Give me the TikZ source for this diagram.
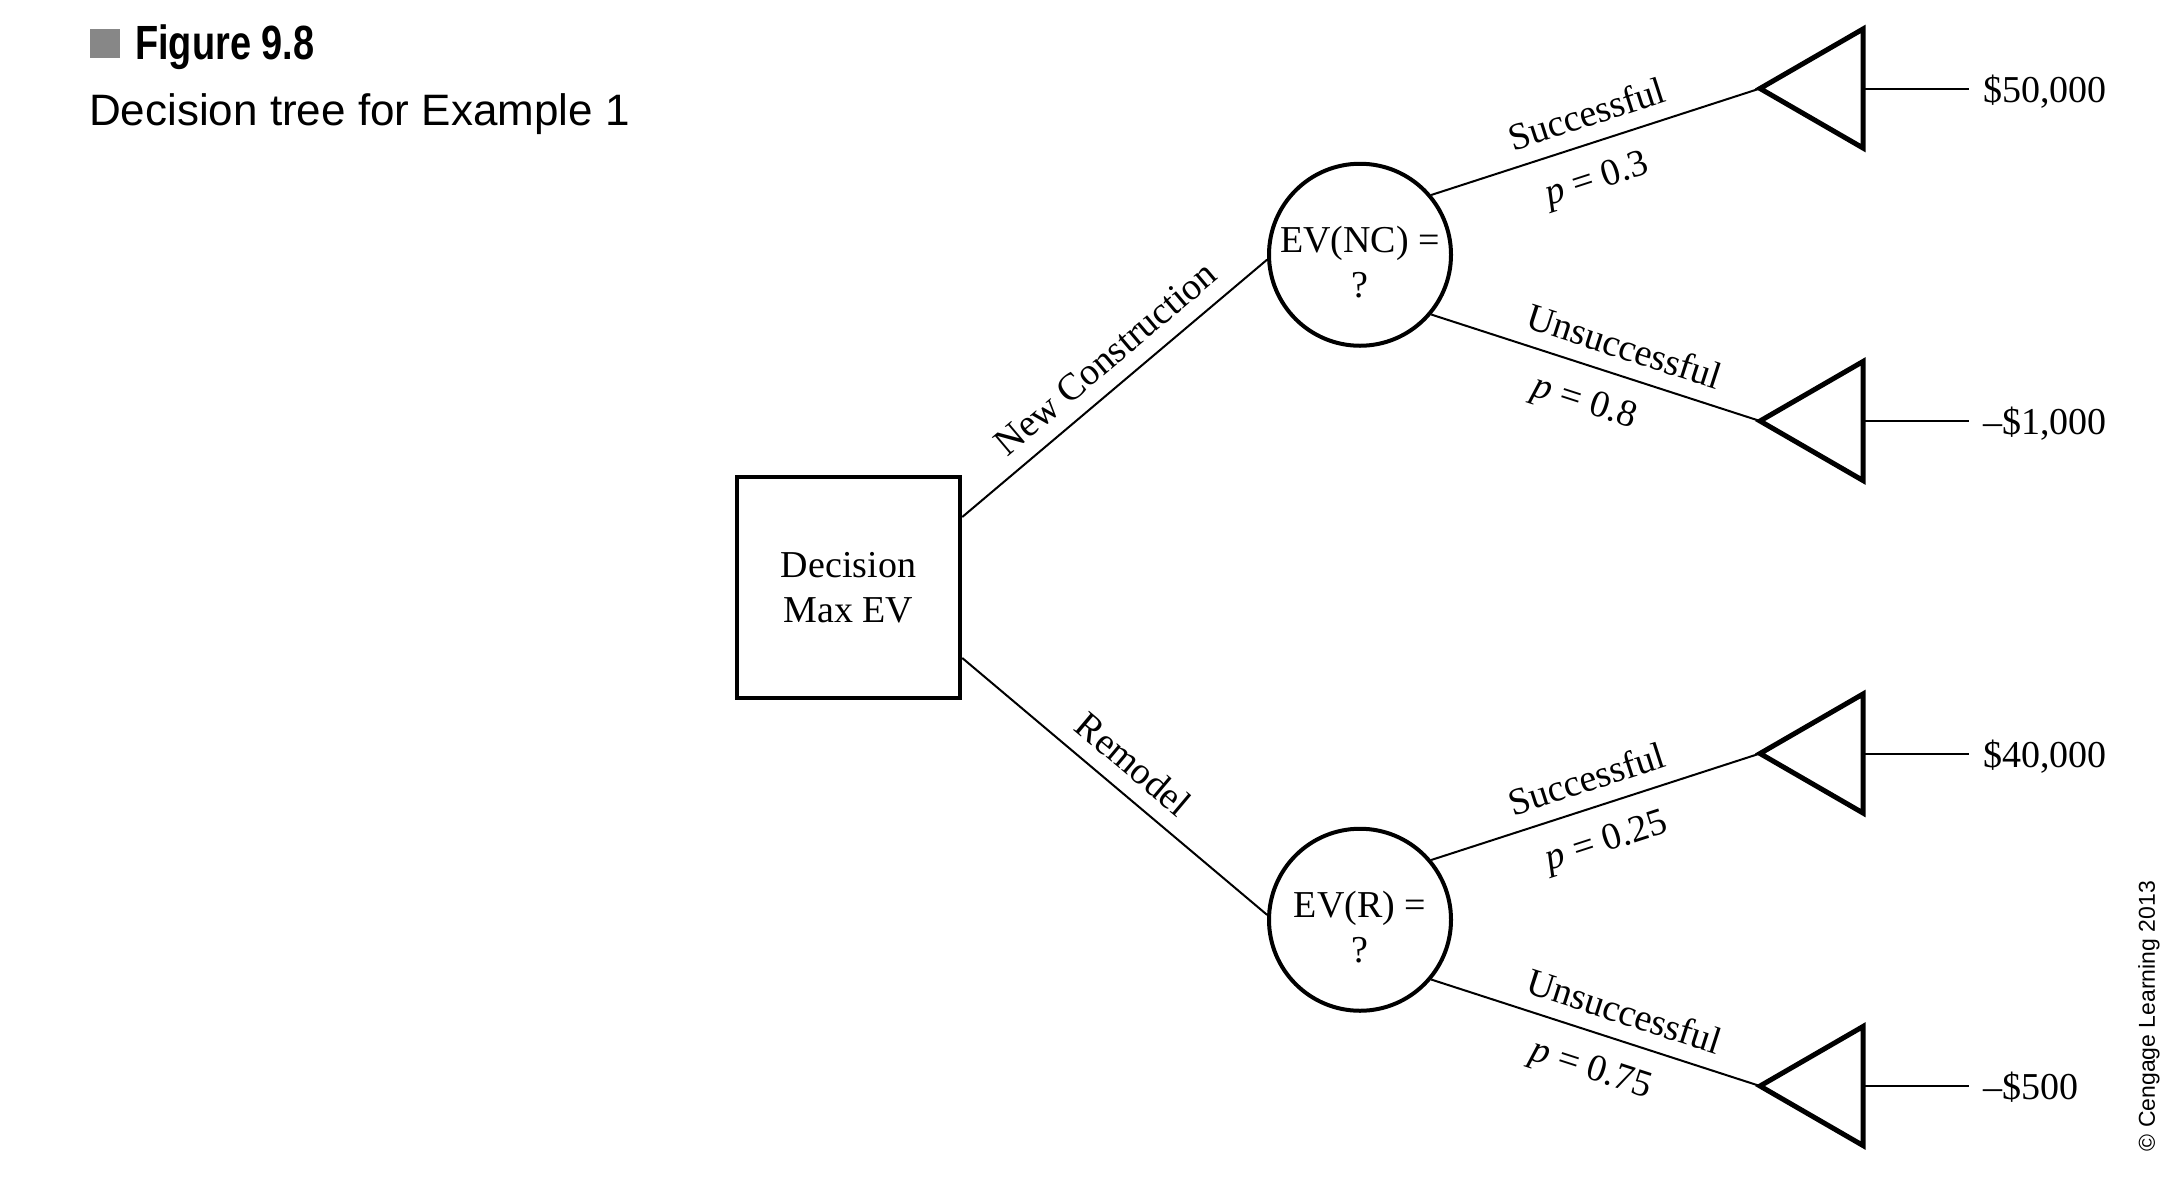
\documentclass[tikz,border=0pt]{standalone}
\usepackage{fontspec}
\setmainfont{Liberation Serif}
\newfontfamily\titlefont[FakeStretch=0.79]{Liberation Sans}
\newfontfamily\capsans{Liberation Sans}
\definecolor{figgray}{RGB}{135,135,135}
\begin{document}
\begin{tikzpicture}[x=1pt,y=-1pt,
  branch/.style={line width=2pt},
  chance/.style={circle, draw, line width=4pt, minimum size=182pt, inner sep=0pt},
  decbox/.style={rectangle, draw, line width=4.5pt, minimum width=223pt, minimum height=221pt, inner sep=0pt, align=center, lab},
  tri/.style={line width=5pt, line join=miter},
  lab/.style={font=\fontsize{38}{45}\selectfont},
  abv/.style={lab, sloped, anchor=south, inner sep=15pt},
  blw/.style={lab, sloped, anchor=north, inner sep=20pt},
  pay/.style={lab, anchor=base west, inner sep=0pt}]
\useasboundingbox (0,0) rectangle (2184,1184);

% heading
\fill[figgray] (90,29) rectangle (120,58);
\node[anchor=base west, inner sep=0pt, font=\titlefont\bfseries\fontsize{48}{48}\selectfont] (fig) at (135,59) {Figure 9.8};
\node[anchor=base west, inner sep=0pt, font=\capsans\fontsize{44}{44}\selectfont] (cap) at (89,125) {Decision tree for Example 1};

% decision and chance nodes
\node[decbox] (dec) at (848.5,587.5) {Decision\\Max EV};
\node[chance] (nc) at (1360,254.75) {};
\node[chance] (rr) at (1360,919.75) {};
\node[lab, align=center, inner sep=0pt] (nct) at ([yshift=-7pt]nc.center) {EV(NC) =\\?};
\node[lab, align=center, inner sep=0pt] (rrt) at ([yshift=-7pt]rr.center) {EV(R) =\\?};

% end triangles
\coordinate (t1) at (1760,88.5);
\coordinate (t2) at (1760,421);
\coordinate (t3) at (1760,753.5);
\coordinate (t4) at (1760,1086);
\foreach \t in {t1,t2,t3,t4}{
  \draw[tri] (\t) -- ++(103,-59.5) -- ++(0,119) -- cycle;
  \path (\t) ++(103,0) coordinate (\t e) ++(106,0) coordinate (\t p);
  \draw[branch] (\t e) -- (\t p);
}

% payoffs
\node[pay] (v1) at ([xshift=14pt,yshift=-13.5pt]t1p) {\$50,000};
\node[pay] (v2) at ([xshift=14pt,yshift=-13.5pt]t2p) {--\$1,000};
\node[pay] (v3) at ([xshift=14pt,yshift=-13.5pt]t3p) {\$40,000};
\node[pay] (v4) at ([xshift=14pt,yshift=-13.5pt]t4p) {--\$500};

% decision branches
\draw[branch] ([yshift=70.5pt]dec.east) -- (nc.183)
  node[abv, pos=0.53] (lnc) {New Construction};
\draw[branch] ([yshift=-70.5pt]dec.east) -- (rr.177)
  node[abv, pos=0.5] (lrm) {Remodel};

% chance branches
\draw[branch] (nc.40) -- (t1)
  node[abv, pos=0.5] (s1) {Successful}
  node[blw, pos=0.47] (p1) {\textit{p} = 0.3};
\draw[branch] (nc.-40) -- (t2)
  node[abv, pos=0.56] (s2) {Unsuccessful}
  node[blw, pos=0.5] (p2) {\textit{p} = 0.8};
\draw[branch] (rr.40) -- (t3)
  node[abv, pos=0.5] (s3) {Successful}
  node[blw, pos=0.5] (p3) {\textit{p} = 0.25};
\draw[branch] (rr.-40) -- (t4)
  node[abv, pos=0.56] (s4) {Unsuccessful}
  node[blw, pos=0.52] (p4) {\textit{p} = 0.75};

% credit
\node[rotate=90, inner sep=0pt, font=\capsans\fontsize{23}{23}\selectfont] (copy) at (2149,1016) {© Cengage Learning 2013};
\end{tikzpicture}
\end{document}
